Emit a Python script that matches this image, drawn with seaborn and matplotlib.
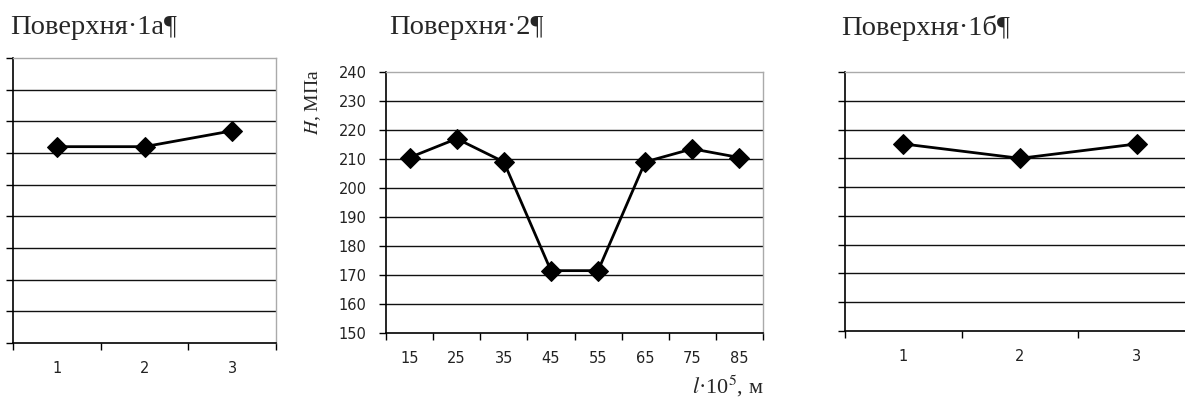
import matplotlib
matplotlib.use("Agg")
import matplotlib.pyplot as plt
import seaborn as sns
import pandas as pd
import numpy as np
from matplotlib.ticker import FixedLocator

sns.set_theme(style="white")
plt.rcParams['font.family'] = ['DejaVu Sans']
plt.rcParams['mathtext.fontset'] = 'stix'

# Data
cats_1a = ["1", "2", "3"]
vals_1a = [212, 212, 217]
cats_2 = ["15", "25", "35", "45", "55", "65", "75", "85"]
vals_2 = [210.5, 217, 209, 171.5, 171.5, 209, 213.5, 210.5]
cats_1b = ["1", "2", "3"]
vals_1b = [215, 210, 215]
y_ticks = [150, 160, 170, 180, 190, 200, 210, 220, 230, 240]
titles = ["Поверхня·1а¶", "Поверхня·2¶", "Поверхня·1б¶"]

W, H = 1185, 400
fig = plt.figure(figsize=(W / 100, H / 100), dpi=100)

def px_axes(l, r, t, b):
    return fig.add_axes([l / W, 1 - b / H, (r - l) / W, (b - t) / H])

def draw(ax, cats, vals, show_ylabels):
    df = pd.DataFrame({"x": np.arange(len(cats)), "y": vals})
    sns.lineplot(data=df, x="x", y="y", ax=ax, color="black", linewidth=2,
                 marker="D", markersize=10, markeredgecolor="black",
                 markerfacecolor="black")
    n = len(cats)
    ax.set_xlim(-0.5, n - 0.5)
    ax.set_ylim(y_ticks[0], y_ticks[-1])
    ax.set_xticks(np.arange(n))
    ax.set_xticklabels(cats, fontsize=10.5, color="#222222")
    ax.xaxis.set_minor_locator(FixedLocator(np.arange(n + 1) - 0.5))
    ax.tick_params(axis="x", which="major", length=0, pad=13)
    ax.tick_params(axis="x", which="minor", length=5, width=1, color="black",
                   direction="out", bottom=True)
    ax.set_yticks(y_ticks)
    if show_ylabels:
        ax.set_yticklabels([str(v) for v in y_ticks], fontsize=10.5, color="#222222")
    else:
        ax.set_yticklabels([])
    ax.tick_params(axis="y", which="major", length=5, width=1, color="black",
                   direction="out", left=True, pad=9)
    ax.grid(False)
    for v in y_ticks[1:-1]:
        ax.axhline(v, color="#111111", linewidth=1, zorder=0)
    ax.set_xlabel("")
    ax.set_ylabel("")
    for s in ["left", "bottom"]:
        ax.spines[s].set_color("black")
        ax.spines[s].set_linewidth(1.2)
    for s in ["top", "right"]:
        ax.spines[s].set_color("#aaaaaa")
        ax.spines[s].set_linewidth(1)
    ax.set_facecolor("white")

ax1 = px_axes(13, 276, 58, 343)
draw(ax1, cats_1a, vals_1a, False)
ax2 = px_axes(386, 763, 72, 333)
draw(ax2, cats_2, vals_2, True)
ax3 = px_axes(845, 1195, 72, 331)
draw(ax3, cats_1b, vals_1b, False)

serif = ['Liberation Serif', 'DejaVu Serif']
fig.text(10 / W, 1 - 28 / H, titles[0], fontsize=20.5, family=serif, va="center", ha="left")
fig.text(389 / W, 1 - 28 / H, titles[1], fontsize=20.5, family=serif, va="center", ha="left")
fig.text(841 / W, 1 - 28 / H, titles[2], fontsize=20.5, family=serif, va="center", ha="left")

fig.text(313 / W, 1 - 102 / H, r"$H$, МПа", fontsize=14, family=serif,
         rotation=90, va="center", ha="center")
fig.text(764 / W, 1 - 386 / H, r"$l$·10$^{5}$, м", fontsize=16, family=serif,
         va="center", ha="right")

fig.savefig("out.png", dpi=100, facecolor="white")
